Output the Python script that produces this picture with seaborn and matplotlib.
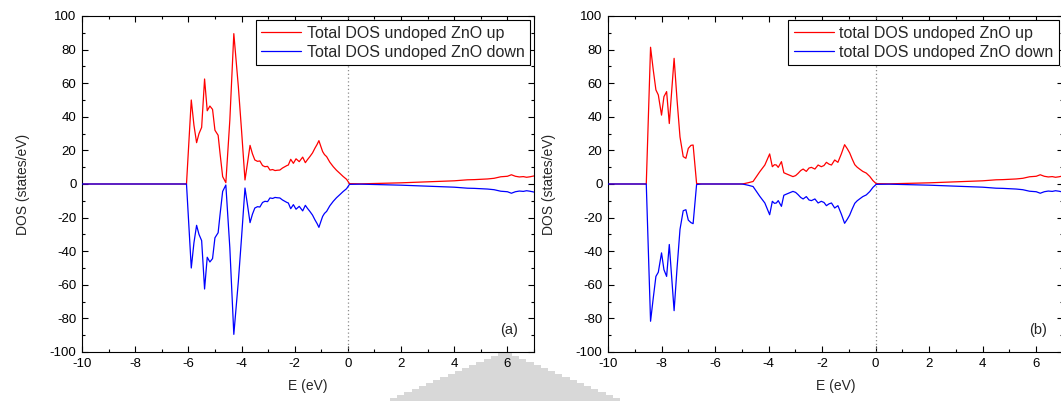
import numpy as np
import pandas as pd
import matplotlib
matplotlib.use("Agg")
import matplotlib.pyplot as plt
from matplotlib.patches import Polygon
from matplotlib.ticker import MultipleLocator
import seaborn as sns

# ---------------- data: total DOS of undoped ZnO ----------------
# panel (a)
energy_a = [-10.0, -6.07, -5.89, -5.79, -5.69, -5.60, -5.50, -5.39, -5.29, -5.19,
            -5.09, -5.00, -4.88, -4.81, -4.71, -4.59, -4.44, -4.29, -4.12, -4.00,
            -3.87, -3.78, -3.68, -3.59, -3.50, -3.40, -3.31, -3.21, -3.12, -3.02,
            -2.93, -2.83, -2.74, -2.65, -2.56, -2.46, -2.37, -2.29, -2.24, -2.15,
            -2.05, -1.95, -1.83, -1.70, -1.60, -1.52, -1.43, -1.33, -1.24, -1.16,
            -1.09, -1.02, -0.95, -0.88, -0.80, -0.68, -0.55, -0.43, -0.30, -0.18,
            -0.05, 0.06, 0.50, 1.00, 1.50, 2.00, 2.50, 3.00, 3.50, 4.00,
            4.25, 4.50, 4.75, 5.00, 5.25, 5.50, 5.75, 6.00, 6.15, 6.30,
            6.45, 6.60, 6.72, 6.85, 7.00]
dos_up_a = [0.0, 0.0, 50.0, 35.0, 24.6, 30.0, 33.7, 62.5, 43.6, 46.4,
            44.4, 32.0, 29.0, 18.5, 4.4, 0.8, 38.0, 89.5, 58.0, 32.0,
            2.4, 12.0, 23.0, 18.0, 14.3, 13.5, 13.7, 11.0, 10.3, 10.5,
            8.3, 8.6, 8.0, 8.2, 8.3, 9.5, 10.3, 11.0, 11.3, 14.7,
            12.3, 15.0, 13.3, 16.0, 12.7, 14.5, 16.3, 18.5, 21.3, 23.5,
            25.8, 22.5, 19.3, 17.5, 16.3, 13.0, 10.3, 8.2, 6.3, 4.5,
            2.8, 0.2, 0.1, 0.3, 0.5, 0.7, 1.0, 1.3, 1.6, 1.9,
            2.2, 2.5, 2.6, 2.8, 3.0, 3.4, 4.3, 4.6, 5.5, 4.6,
            4.2, 4.4, 4.0, 4.3, 4.8]
dos_down_a = [0.0, 0.0, -50.0, -35.0, -24.6, -30.0, -33.7, -62.5, -43.6, -46.4,
              -44.4, -32.0, -29.0, -18.5, -4.4, -0.6, -38.0, -89.5, -58.0, -32.0,
              -2.4, -12.0, -23.0, -18.0, -14.3, -13.5, -13.7, -11.0, -10.3, -10.5,
              -8.3, -8.6, -8.0, -8.2, -8.3, -9.5, -10.3, -11.0, -11.3, -14.7,
              -12.3, -15.0, -13.3, -16.0, -12.7, -14.5, -16.3, -18.5, -21.3, -23.5,
              -25.8, -22.5, -19.3, -17.5, -16.3, -13.0, -10.3, -8.2, -6.3, -4.5,
              -2.8, -0.2, -0.1, -0.3, -0.5, -0.7, -1.0, -1.3, -1.6, -1.9,
              -2.2, -2.5, -2.6, -2.8, -3.0, -3.4, -4.3, -4.6, -5.5, -4.6,
              -4.2, -4.4, -4.0, -4.3, -4.8]

# panel (b)
energy_b = [-10.0, -8.57, -8.41, -8.31, -8.21, -8.12, -8.00, -7.91, -7.81, -7.71,
            -7.53, -7.42, -7.31, -7.19, -7.09, -7.00, -6.90, -6.82, -6.69, -6.50,
            -5.00, -4.89, -4.75, -4.58, -4.45, -4.33, -4.14, -3.96, -3.86, -3.78,
            -3.71, -3.64, -3.52, -3.43, -3.33, -3.24, -3.09, -2.99, -2.90, -2.80,
            -2.71, -2.59, -2.49, -2.40, -2.27, -2.15, -2.03, -1.93, -1.84, -1.74,
            -1.65, -1.53, -1.41, -1.28, -1.16, -1.06, -0.97, -0.88, -0.78, -0.69,
            -0.60, -0.48, -0.35, -0.22, -0.10, 0.02, 0.50, 1.00, 1.50, 2.00,
            2.50, 3.00, 3.50, 4.00, 4.25, 4.50, 4.75, 5.00, 5.25, 5.50,
            5.75, 6.00, 6.15, 6.30, 6.45, 6.60, 6.72, 6.85, 7.00]
dos_up_b = [0.0, 0.0, 81.4, 68.0, 56.0, 53.0, 41.0, 52.0, 55.0, 36.0,
            74.8, 50.0, 28.0, 16.3, 15.3, 21.2, 23.0, 23.2, 0.3, 0.0,
            0.0, 0.3, 0.8, 1.5, 4.5, 7.3, 11.3, 17.9, 10.3, 11.5,
            11.3, 9.9, 13.3, 6.7, 6.0, 5.4, 4.4, 5.0, 6.3, 8.0,
            8.9, 7.5, 9.5, 9.9, 8.9, 11.3, 10.3, 11.0, 12.9, 11.8,
            11.3, 14.3, 12.9, 18.0, 23.4, 21.0, 18.5, 15.0, 11.5, 10.0,
            8.9, 7.5, 6.5, 4.5, 2.0, 0.2, 0.1, 0.3, 0.5, 0.7,
            1.0, 1.3, 1.6, 1.9, 2.2, 2.5, 2.6, 2.8, 3.0, 3.4,
            4.3, 4.6, 5.5, 4.6, 4.2, 4.4, 4.0, 4.3, 4.8]
dos_down_b = [0.0, 0.0, -81.7, -68.0, -55.0, -52.5, -41.0, -51.0, -55.0, -36.0,
              -75.4, -50.0, -27.0, -15.9, -15.3, -21.5, -23.0, -23.6, -0.3, 0.0,
              0.0, -0.3, -0.8, -1.5, -4.5, -7.3, -11.3, -18.3, -10.3, -11.5,
              -11.3, -9.9, -13.3, -6.7, -6.0, -5.4, -4.4, -5.0, -6.3, -8.0,
              -8.9, -7.5, -9.5, -9.9, -8.9, -11.3, -10.3, -11.0, -12.9, -11.8,
              -11.3, -14.3, -12.9, -18.0, -23.4, -21.0, -18.5, -15.0, -11.5, -10.0,
              -8.9, -7.5, -6.5, -4.5, -2.0, -0.2, -0.1, -0.3, -0.5, -0.7,
              -1.0, -1.3, -1.6, -1.9, -2.2, -2.5, -2.6, -2.8, -3.0, -3.4,
              -4.3, -4.6, -5.5, -4.6, -4.2, -4.4, -4.0, -4.3, -4.8]

labels_a = ["Total DOS undoped ZnO up", "Total DOS undoped ZnO down"]
labels_b = ["total DOS undoped ZnO up", "total DOS undoped ZnO down"]
panel_tags = ["(a)", "(b)"]
x_ticks = [-10, -8, -6, -4, -2, 0, 2, 4, 6]
y_ticks = [-100, -80, -60, -40, -20, 0, 20, 40, 60, 80, 100]

# ---------------- style ----------------
sns.set_style("ticks")
plt.rcParams["font.family"] = ["Liberation Sans", "DejaVu Sans"]
plt.rcParams["axes.linewidth"] = 0.8
plt.rcParams["axes.unicode_minus"] = False

W, H = 1061, 401
fig = plt.figure(figsize=(W / 100, H / 100), dpi=100)

ax_a = fig.add_axes([82 / W, 1 - 352 / H, 452 / W, 336 / H])
ax_b = fig.add_axes([608 / W, 1 - 352 / H, 455 / W, 336 / H])

panels = [
    (ax_a, energy_a, dos_up_a, dos_down_a, labels_a, panel_tags[0]),
    (ax_b, energy_b, dos_up_b, dos_down_b, labels_b, panel_tags[1]),
]

for ax, e, up, down, labs, tag in panels:
    df = pd.DataFrame({"E": e, "up": up, "down": down})
    # Fermi level marker
    ax.axvline(0, color="#8c8c8c", lw=0.9, ls=(0, (1, 2)), zorder=1)
    sns.lineplot(data=df, x="E", y="up", ax=ax, color="#ff0000", lw=0.9,
                 estimator=None, label=labs[0], zorder=2)
    sns.lineplot(data=df, x="E", y="down", ax=ax, color="#0000ff", lw=0.9,
                 estimator=None, label=labs[1], zorder=3)

    ax.set_xlim(-10, 7)
    ax.set_ylim(-100, 100)
    ax.set_xticks(x_ticks)
    ax.set_yticks(y_ticks)
    ax.xaxis.set_minor_locator(MultipleLocator(1))
    ax.yaxis.set_minor_locator(MultipleLocator(10))
    ax.tick_params(which="both", direction="in", top=True, right=True,
                   width=0.8, colors="black", labelsize=9.5, pad=4)
    ax.tick_params(which="major", length=4)
    ax.tick_params(which="minor", length=2)
    for s in ax.spines.values():
        s.set_visible(True)
        s.set_color("black")

    ax.set_xlabel("E (eV)", fontsize=10, labelpad=7)
    ax.set_ylabel("DOS (states/eV)", fontsize=10, labelpad=14)

    leg = ax.legend(loc="upper right", fontsize=11.5, frameon=True, fancybox=False,
                    framealpha=1, edgecolor="black", handlelength=2.5,
                    handletextpad=0.35, borderpad=0.35, labelspacing=0.25,
                    borderaxespad=0.25)
    leg.get_frame().set_linewidth(0.8)

    ax.text(0.965, 0.045, tag, transform=ax.transAxes, ha="right", va="bottom",
            fontsize=10.5)

# stepped grey marker below the panels
cx, top, bottom = 505, 353, 401
step_h = 3
pts = []
rows = list(range(top, bottom + step_h, step_h))
for py in rows:
    hw = 7 + (py - top) * 2.4
    pts.append((cx + hw, py))
    pts.append((cx + hw, min(py + step_h, bottom + 2)))
right_side = pts
left_side = [(2 * cx - x, y) for x, y in reversed(right_side)]
poly_px = right_side + left_side
poly = Polygon([(x / W, 1 - y / H) for x, y in poly_px], closed=True,
               transform=fig.transFigure, facecolor="#d8d8d8", edgecolor="none",
               zorder=-1)
fig.add_artist(poly)

fig.savefig("out.png", dpi=100)
